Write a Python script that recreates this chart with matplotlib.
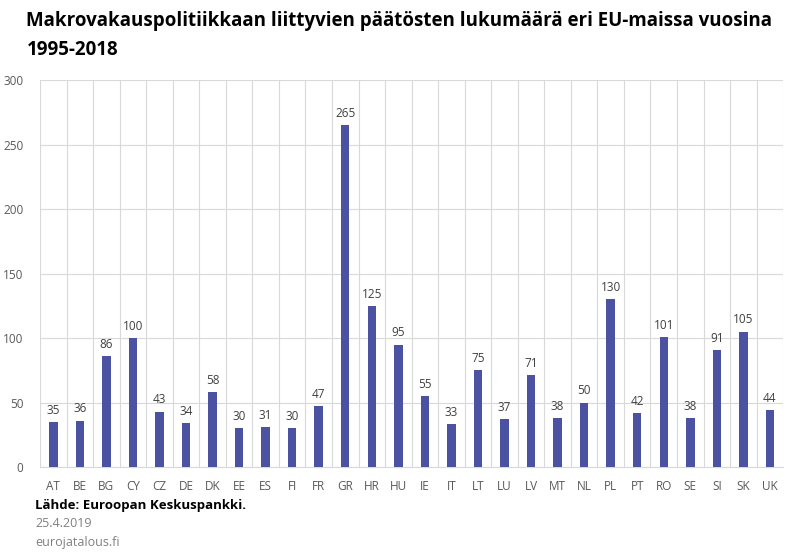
import matplotlib
matplotlib.use("Agg")
import matplotlib.pyplot as plt

maat = ["AT", "BE", "BG", "CY", "CZ", "DE", "DK", "EE", "ES", "FI", "FR", "GR", "HR", "HU",
        "IE", "IT", "LT", "LU", "LV", "MT", "NL", "PL", "PT", "RO", "SE", "SI", "SK", "UK"]
paatokset = [35, 36, 86, 100, 43, 34, 58, 30, 31, 30, 47, 265, 125, 95,
             55, 33, 75, 37, 71, 38, 50, 130, 42, 101, 38, 91, 105, 44]
y_ticks = [0, 50, 100, 150, 200, 250, 300]

plt.rcParams['font.family'] = ['Open Sans', 'DejaVu Sans']

fig = plt.figure(figsize=(8, 5.6), dpi=100)
ax = fig.add_axes([0.05, 0.166, 0.929, 0.691])

x = list(range(len(maat)))
bars = ax.bar(x, paatokset, width=0.32, color="#4B52A2", zorder=3)
for xi, v in zip(x, paatokset):
    ax.text(xi, v + 4, str(v), ha="center", va="bottom", fontsize=8.5, color="#404040")

ax.set_xlim(-0.5, len(maat) - 0.5)
ax.set_ylim(0, 300)
ax.set_yticks(y_ticks)
ax.set_xticks(x)
ax.set_xticklabels(maat)
# pystyviivat kategorioiden väliin
ax.set_xticks([i + 0.5 for i in range(-1, len(maat))], minor=True)
ax.grid(axis="x", which="minor", color="#D9D9D9", linewidth=0.8, zorder=0)
ax.grid(axis="y", which="major", color="#D9D9D9", linewidth=0.8, zorder=0)
ax.tick_params(axis="both", which="both", length=0, labelsize=8.5, labelcolor="#595959")
ax.tick_params(axis="x", pad=9)
ax.tick_params(axis="y", pad=12)
for s in ["top", "right", "left"]:
    ax.spines[s].set_visible(False)
ax.spines["bottom"].set_color("#D9D9D9")

fig.text(0.033, 0.98, "Makrovakauspolitiikkaan liittyvien päätösten lukumäärä eri EU-maissa vuosina\n1995-2018",
         ha="left", va="top", fontsize=13.5, fontweight="bold", color="black", linespacing=1.6)
fig.text(0.044, 0.098, "Lähde: Euroopan Keskuspankki.", ha="left", va="center",
         fontsize=9.5, fontweight="bold", color="black")
fig.text(0.044, 0.065, "25.4.2019", ha="left", va="center", fontsize=9, color="#808080")
fig.text(0.044, 0.032, "eurojatalous.fi", ha="left", va="center", fontsize=9, color="#808080")

fig.savefig("out.png", dpi=100)
